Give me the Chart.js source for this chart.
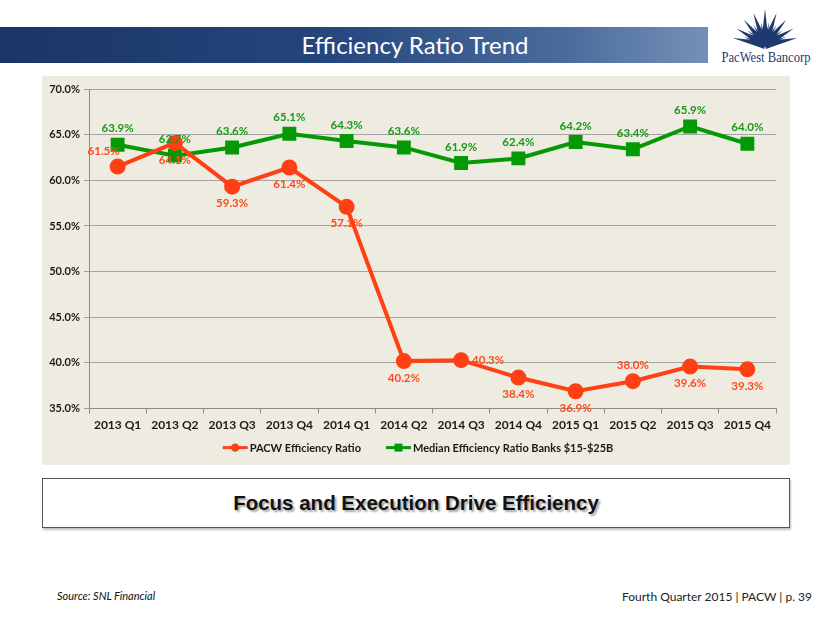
<!DOCTYPE html>
<html>
<head>
<meta charset="utf-8">
<script src="https://cdn.jsdelivr.net/npm/chart.js@4/dist/chart.umd.min.js"></script>
<style>
  html, body { margin: 0; padding: 0; background: #ffffff; }
  body { width: 830px; height: 623px; position: relative; overflow: hidden; font-family: Lato, "Open Sans", sans-serif; }
  #band { position: absolute; left: 0; top: 27px; width: 708px; height: 36px;
    background: linear-gradient(to right, #1b3566 0%, #24457c 45%, #4a6c9c 80%, #7590b8 100%); }
  #title { position: absolute; left: 0; top: 27px; width: 830px; height: 36px; line-height: 36px; text-align: center;
    color: #ffffff; font-family: Lato, sans-serif; font-size: 24px; }
  #logo { position: absolute; left: 700px; top: 0px; width: 130px; height: 76px; }
  #chartbg { position: absolute; left: 42px; top: 76px; width: 748px; height: 389px; background: #eeece1; }
  #wrap { position: absolute; left: 42px; top: 76px; width: 748px; height: 389px; }
  #box { position: absolute; left: 42px; top: 478px; width: 746px; height: 48px; border: 1px solid #555; background: #fff;
    box-shadow: 1px 2px 2px rgba(0,0,0,0.25);
    text-align: center; line-height: 48px; font-family: "Liberation Sans", Arial, sans-serif; font-weight: bold; font-size: 20.5px; color: #111;
    text-shadow: 2px 2px 2px rgba(0,0,0,0.35); }
  #source { position: absolute; left: 57px; top: 589px; font-family: Lato, sans-serif; font-style: italic; font-size: 11px; color: #111; }
  #foot { position: absolute; right: 18px; top: 589px; font-family: Lato, sans-serif; font-size: 12px; color: #222; }
</style>
</head>
<body>
<div id="band"></div>
<div id="title">Efficiency Ratio Trend</div>
<svg id="logo" viewBox="0 0 130 76" xmlns="http://www.w3.org/2000/svg">
  <g id="rays" fill="#1f3a6e"></g>
  <path d="M56 46 A9 9 0 0 1 74 46 Z" fill="#1f3a6e"/>
  <text x="66" y="62" text-anchor="middle" font-family="Liberation Serif, DejaVu Serif, serif" font-size="14" fill="#1f3a6e" textLength="89" lengthAdjust="spacingAndGlyphs">PacWest Bancorp</text>
</svg>
<div id="chartbg"></div>
<div id="wrap"><canvas id="c" width="748" height="389"></canvas></div>
<div id="box">Focus and Execution Drive Efficiency</div>
<div id="source">Source: SNL Financial</div>
<div id="foot">Fourth Quarter 2015 | PACW | p. 39</div>
<script>
// decorative logo rays
(function () {
  const g = document.getElementById('rays');
  const cx = 65, cy = 45;
  const rays = [[0,36,4],[20,34,4],[-20,34,4],[40,33,4],[-40,33,4],[60,33,4],[-60,33,4],[78,33,4],[-78,33,4],
                [10,23,2.2],[-10,23,2.2],[30,23,2.2],[-30,23,2.2],[50,23,2.2],[-50,23,2.2],[69,23,2.2],[-69,23,2.2]];
  rays.forEach(([a, len, w]) => {
    const r = a * Math.PI / 180;
    const ux = Math.sin(r), uy = -Math.cos(r);
    const px = -uy, py = ux;
    const tip = [cx + ux * len, cy + uy * len];
    const b1 = [cx + px * w, cy + py * w], b2 = [cx - px * w, cy - py * w];
    const poly = document.createElementNS('http://www.w3.org/2000/svg', 'polygon');
    poly.setAttribute('points', [b1, tip, b2].map(p => p[0].toFixed(1) + ',' + p[1].toFixed(1)).join(' '));
    g.appendChild(poly);
  });
})();

const quarters = ['2013 Q1','2013 Q2','2013 Q3','2013 Q4','2014 Q1','2014 Q2','2014 Q3','2014 Q4','2015 Q1','2015 Q2','2015 Q3','2015 Q4'];
const pacwRatio = [61.5, 64.1, 59.3, 61.4, 57.1, 40.2, 40.3, 38.4, 36.9, 38.0, 39.6, 39.3];
const medianRatio = [63.9, 62.7, 63.6, 65.1, 64.3, 63.6, 61.9, 62.4, 64.2, 63.4, 65.9, 64.0];
const seriesNames = ['PACW Efficiency Ratio', 'Median Efficiency Ratio Banks $15-$25B'];
const yTicks = [35, 40, 45, 50, 55, 60, 65, 70];

const RED = '#ff4014';
const GREEN = '#069906';
const RED_TXT = '#ff4a1c';
const GREEN_TXT = '#1a9a1a';

// label placement per point (styling)
const pacwPlace = ['aboveLeft','below','below','below','below','below','right','below','below','above','below','below'];
const medianPlace = quarters.map(() => 'above');

const labelPlugin = {
  id: 'pointLabels',
  afterDatasetsDraw(chart) {
    const ctx = chart.ctx;
    const places = [pacwPlace, medianPlace];
    const colors = [RED_TXT, GREEN_TXT];
    ctx.save();
    ctx.font = 'bold 11.5px Lato';
    ctx.textAlign = 'center';
    ctx.textBaseline = 'middle';
    chart.data.datasets.forEach((ds, di) => {
      const meta = chart.getDatasetMeta(di);
      ctx.fillStyle = colors[di];
      meta.data.forEach((pt, i) => {
        const p = places[di][i];
        let dx = 0, dy = 0;
        if (p === 'above') dy = -16;
        else if (p === 'below') dy = 17;
        else if (p === 'right') dx = 27;
        else if (p === 'aboveLeft') { dx = -14; dy = -15; }
        ctx.fillText(ds.data[i].toFixed(1) + '%', pt.x + dx, pt.y + dy);
      });
    });
    ctx.restore();
  }
};

// custom legend: line + marker symbol, drawn under the x axis
const legendPlugin = {
  id: 'lineMarkerLegend',
  afterDraw(chart) {
    const ctx = chart.ctx;
    const ds = chart.data.datasets;
    const symW = 25, symGap = 2, itemGap = 25;
    ctx.save();
    ctx.font = 'bold 11px Lato';
    ctx.textBaseline = 'middle';
    ctx.textAlign = 'left';
    const widths = ds.map(d => symW + symGap + ctx.measureText(d.label).width);
    const total = widths.reduce((a, b) => a + b, 0) + itemGap * (ds.length - 1);
    let x = (chart.width - total) / 2 + 2;
    const y = chart.chartArea.bottom + 39;
    ds.forEach((d, i) => {
      ctx.strokeStyle = d.borderColor; ctx.fillStyle = d.borderColor; ctx.lineWidth = 3;
      ctx.beginPath(); ctx.moveTo(x, y); ctx.lineTo(x + symW, y); ctx.stroke();
      const mx = x + symW / 2;
      if (d.pointStyle === 'circle') { ctx.beginPath(); ctx.arc(mx, y, 4.2, 0, Math.PI * 2); ctx.fill(); }
      else { ctx.fillRect(mx - 4, y - 4, 8, 8); }
      ctx.fillStyle = '#1a1a1a';
      ctx.fillText(d.label, x + symW + symGap, y + 0.5);
      x += widths[i] + itemGap;
    });
    ctx.restore();
  }
};

new Chart(document.getElementById('c'), {
  type: 'line',
  data: {
    labels: quarters,
    datasets: [
      { label: seriesNames[0], data: pacwRatio, borderColor: RED, backgroundColor: RED,
        borderWidth: 4, pointStyle: 'circle', pointRadius: 6, pointHoverRadius: 6, tension: 0 },
      { label: seriesNames[1], data: medianRatio, borderColor: GREEN, backgroundColor: GREEN,
        borderWidth: 4, pointStyle: 'rect', pointRadius: 7, pointHoverRadius: 7, tension: 0 }
    ]
  },
  options: {
    responsive: false,
    animation: false,
    events: [],
    layout: { padding: { top: 13, right: 14, left: 0, bottom: 29 } },
    scales: {
      x: {
        offset: true,
        grid: { display: true, drawOnChartArea: false, drawTicks: true, tickLength: 5, color: '#8c8c8c', offset: true },
        border: { display: true, color: '#8c8c8c', width: 1 },
        ticks: { color: '#1a1a1a', font: { family: 'Lato', weight: 'bold', size: 12 }, padding: 4, maxRotation: 0, autoSkip: false }
      },
      y: {
        min: 35, max: 70,
        afterFit(scale) { scale.width = 47; },
        afterBuildTicks(scale) { scale.ticks = yTicks.map(v => ({ value: v })); },
        grid: { color: '#a3a3a3', lineWidth: 1, drawTicks: true, tickLength: 5 },
        border: { display: true, color: '#8c8c8c', width: 1 },
        ticks: { color: '#1a1a1a', font: { family: 'Lato', weight: 'bold', size: 11 }, padding: 4,
          callback: v => Number(v).toFixed(1) + '%' }
      }
    },
    plugins: {
      tooltip: { enabled: false },
      legend: { display: false }
    }
  },
  plugins: [labelPlugin, legendPlugin]
});
</script>
</body>
</html>
